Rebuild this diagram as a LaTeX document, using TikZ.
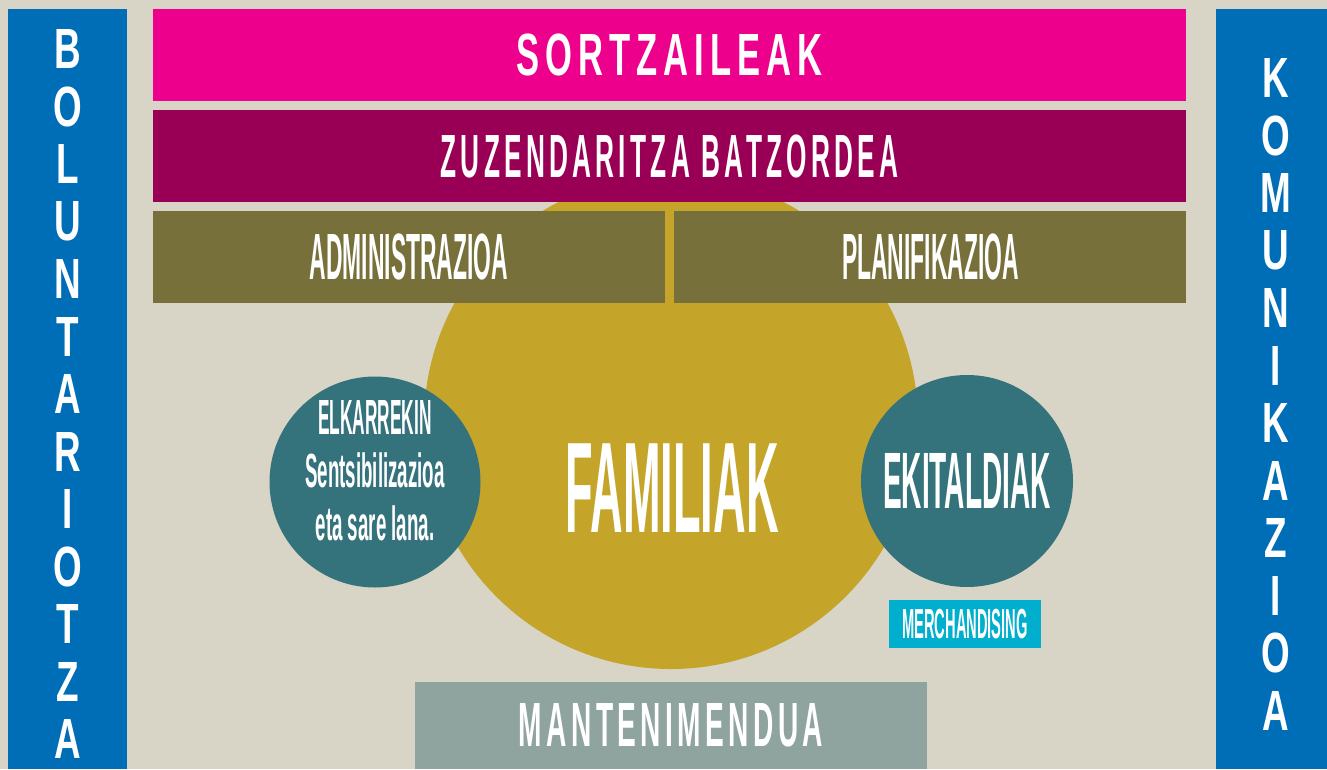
\documentclass[tikz,border=0pt]{standalone}
\usepackage{fontspec}
\setmainfont{Liberation Sans}
\usepackage{tikz}
\usetikzlibrary{positioning}
\newfontfamily\sidefont[FakeStretch=0.65]{Liberation Sans}
\newfontfamily\widebanner[FakeStretch=0.58,LetterSpace=10]{Liberation Sans}
\newfontfamily\banner[FakeStretch=0.43,LetterSpace=7]{Liberation Sans}
\newfontfamily\lowbanner[FakeStretch=0.45,LetterSpace=7]{Liberation Sans}
\newfontfamily\narrow[FakeStretch=0.35]{Liberation Sans}
\newfontfamily\narrowlc[FakeStretch=0.39]{Liberation Sans}
\definecolor{paper}{HTML}{D8D5C7}
\definecolor{sideblue}{HTML}{006EB7}
\definecolor{sortzpink}{HTML}{EC008C}
\definecolor{zuzplum}{HTML}{990055}
\definecolor{admolive}{HTML}{78703A}
\definecolor{famgold}{HTML}{C4A52A}
\definecolor{spotteal}{HTML}{35737C}
\definecolor{merchcyan}{HTML}{00AFCD}
\definecolor{mantsage}{HTML}{8FA49F}
\tikzstyle{box} = [rectangle, inner sep=0pt, text=white,
    minimum height=92pt]
\tikzstyle{side} = [rectangle, fill=sideblue, inner sep=0pt,
    anchor=north west, minimum height=760pt]
\tikzstyle{letter} = [text=white, inner sep=0pt,
    font=\sidefont\bfseries\fontsize{56.7}{57}\selectfont]
\tikzstyle{spot} = [circle, fill=spotteal, inner sep=0pt,
    minimum size=211pt, text=white]
\begin{document}
\begin{tikzpicture}[x=1pt, y=-1pt]
    \useasboundingbox (0,0) rectangle (1327,769);
    \fill[paper] (0,0) rectangle (1327,769);
    % Place nodes
    \node[spot, fill=famgold, minimum size=494pt] (famil) at (671,422) {};
    \node[box, fill=sortzpink, minimum width=1033pt,
        font=\widebanner\bfseries\fontsize{59.6}{60}\selectfont] (sortz) at (669.5,55) {SORTZAILEAK};
    \node[box, fill=zuzplum, minimum width=1033pt, below=9pt of sortz,
        font=\banner\bfseries\fontsize{61}{61}\selectfont] (zuzen) {ZUZENDARITZA BATZORDEA};
    \node[box, fill=admolive, minimum width=512pt, below=8pt of zuzen.south west, anchor=north west,
        font=\narrow\bfseries\fontsize{65.4}{66}\selectfont] (admin) {ADMINISTRAZIOA};
    \node[box, fill=admolive, minimum width=512pt, right=9pt of admin,
        font=\narrow\bfseries\fontsize{65.4}{66}\selectfont] (plan) {PLANIFIKAZIOA};
    \node[spot] (elkar) at (375,482) {};
    \node[text=white, inner sep=0pt, align=center,
        font=\narrow\bfseries\fontsize{49.4}{53}\selectfont] (elkartxt) at ([yshift=11pt]elkar.center)
        {ELKARREKIN\\{\narrowlc\bfseries\fontsize{48}{53}\selectfont Sentsibilizazioa}\\{\narrowlc\bfseries\fontsize{48}{53}\selectfont eta sare lana.}};
    \node[spot, minimum size=212pt, font=\narrow\bfseries\fontsize{80}{80}\selectfont] (ekit) at (967,481) {EKITALDIAK};
    \node[text=white, inner sep=0pt, font=\narrow\bfseries\fontsize{129}{129}\selectfont] (familtxt) at (672,488.5) {FAMILIAK};
    \node[box, fill=merchcyan, minimum width=152pt, minimum height=48pt,
        font=\narrow\bfseries\fontsize{42}{42}\selectfont] (merch) at (965,624) {MERCHANDISING};
    \node[box, fill=mantsage, minimum width=512pt, minimum height=87pt,
        font=\lowbanner\bfseries\fontsize{62.5}{63}\selectfont] (mant) at (671,725.5) {MANTENIMENDUA};
    \node[side, minimum width=119pt] (bolun) at (8,9) {};
    \node[side, minimum width=111pt] (komun) at (1216,9) {};
    % Side letters
    \foreach \ch [count=\i from 0] in {B,O,L,U,N,T,A,R,I,O,T,Z,A}
        \node[letter] (bol\i) at (67.5,49+57.5*\i) {\ch};
    \foreach \ch [count=\i from 0] in {K,O,M,U,N,I,K,A,Z,I,O,A}
        \node[letter] (kom\i) at (1276,78+57.5*\i) {\ch};
\end{tikzpicture}
\end{document}
